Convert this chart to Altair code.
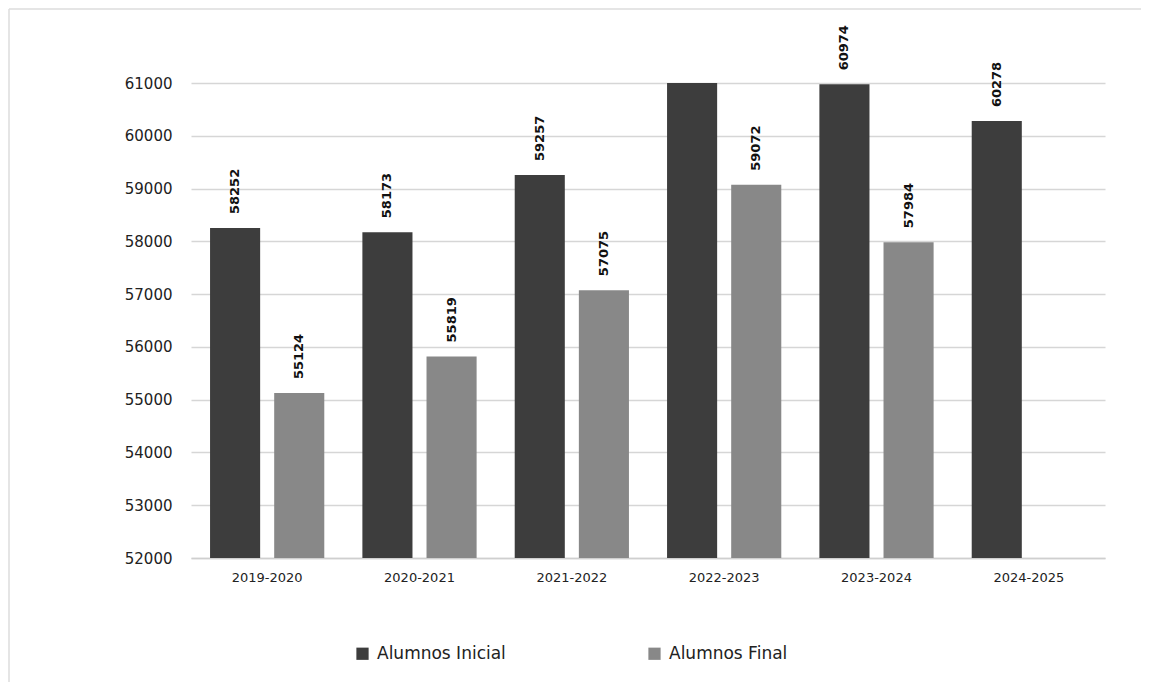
import altair as alt
import pandas as pd

cursos = ["2019-2020", "2020-2021", "2021-2022", "2022-2023", "2023-2024", "2024-2025"]
inicial = [58252, 58173, 59257, 61200, 60974, 60278]
final = [55124, 55819, 57075, 59072, 57984, None]
series = ["Alumnos Inicial", "Alumnos Final"]
colors = ["#3d3d3d", "#888888"]

rows = []
for c, a, b in zip(cursos, inicial, final):
    rows.append({"curso": c, "serie": series[0], "valor": a})
    if b is not None:
        rows.append({"curso": c, "serie": series[1], "valor": b})
df = pd.DataFrame(rows)

FONT = "DejaVu Sans"
W, H = 914, 475
PAD = {"left": 183, "top": 75, "right": 36, "bottom": 124}

x = alt.X("curso:N", sort=cursos, title=None,
          scale=alt.Scale(paddingInner=0, paddingOuter=0),
          axis=alt.Axis(labelAngle=0, labelFont=FONT, labelFontSize=13,
                        labelColor="#222222", labelPadding=13, ticks=False,
                        domainColor="#cfcfcf", domainWidth=1.5, grid=False))
xo = alt.XOffset("serie:N", sort=series,
                 scale=alt.Scale(paddingInner=0.219, paddingOuter=0.297))
y = alt.Y("valor:Q", title=None,
          scale=alt.Scale(domain=[52000, 61000], zero=False, nice=False),
          axis=alt.Axis(values=list(range(52000, 61001, 1000)), format="d",
                        labelFont=FONT, labelFontSize=15,
                        labelColor="#222222", labelPadding=19, ticks=False, domain=False,
                        gridColor="#d6d6d6", gridWidth=1.3))
color = alt.Color("serie:N", sort=series,
                  scale=alt.Scale(domain=series, range=colors),
                  legend=alt.Legend(title=None, orient="none", direction="horizontal",
                                    legendX=163, legendY=562, symbolType="square",
                                    symbolSize=150, symbolStrokeWidth=0, symbolOpacity=1,
                                    labelFont=FONT, labelFontSize=17, labelColor="#222222",
                                    labelOffset=6, columnPadding=140, labelLimit=300))

base = alt.Chart(df)
bars = base.mark_bar(clip=True).encode(x=x, xOffset=xo, y=y, color=color)
labels = base.transform_filter("datum.valor <= 61000").mark_text(
    angle=270, align="left", baseline="middle", dx=14, font=FONT,
    fontSize=13, fontWeight="bold", color="#111111"
).encode(x=x, xOffset=xo, y=y, text=alt.Text("valor:Q", format="d"))

# light frame along the top and left edges of the chart card
one = pd.DataFrame({"k": [0]})
fx = -PAD["left"] + 1
fy = -PAD["top"] + 1
frame_top = alt.Chart(one).mark_rule(stroke="#dcdcdc", strokeWidth=1.5).encode(
    x=alt.value(fx), x2=alt.value(W + PAD["right"] + 5), y=alt.value(fy), y2=alt.value(fy))
frame_left = alt.Chart(one).mark_rule(stroke="#dcdcdc", strokeWidth=1.5).encode(
    x=alt.value(fx), x2=alt.value(fx), y=alt.value(fy), y2=alt.value(H + PAD["bottom"]))

chart = alt.layer(frame_top, frame_left, bars, labels).properties(
    width=W, height=H,
    autosize=alt.AutoSizeParams(type="none"),
    padding=PAD,
    background="white",
).configure_view(strokeWidth=0, stroke="transparent")

chart.save("out.html", embed_options={"renderer": "svg", "actions": False})
